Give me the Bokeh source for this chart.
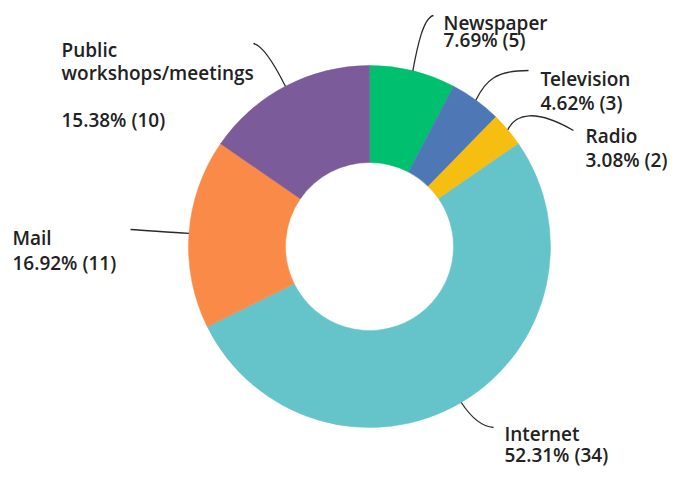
import math
from bokeh.plotting import figure
from bokeh.models import Range1d, ColumnDataSource
from bokeh.core.properties import value
from bokeh.embed import file_html
from bokeh.resources import INLINE

# ---- data ----
categories = ["Newspaper", "Television", "Radio", "Internet", "Mail", "Public workshops/meetings"]
counts = [5, 3, 2, 34, 11, 10]
percents = ["7.69%", "4.62%", "3.08%", "52.31%", "16.92%", "15.38%"]
colors = ["#00BF6F", "#4E77B6", "#F7BE12", "#64C4CA", "#FA8A48", "#7B5B99"]

# ---- layout (picture pixel coordinates) ----
W, H = 670, 469
CX, CY = 369, 246
R_OUT, R_IN = 181, 84

labels = [
    dict(lines=["Newspaper", "{p} ({c})"], x=443, ys=[22, 39], end=(433, 15), c1=(417, 45), c2=(423, 17)),
    dict(lines=["Television", "{p} ({c})"], x=540, ys=[78, 102], end=(528, 70), c1=(485, 80), c2=(495, 70)),
    dict(lines=["Radio", "{p} ({c})"], x=585, ys=[135, 159], end=(573, 130), c1=(515, 113), c2=(535, 108)),
    dict(lines=["Internet", "{p} ({c})"], x=504, ys=[433, 454], end=(493, 427), c1=(468, 413), c2=(479, 426)),
    dict(lines=["Mail", "{p} ({c})"], x=12, ys=[237, 262], end=(130, 229), c1=(168, 232), c2=(149, 230)),
    dict(lines=["Public", "workshops/meetings", "", "{p} ({c})"], x=61, ys=[49, 72, 95, 119], end=(253, 43), c1=(274, 64), c2=(262, 45)),
]

def dy(py):
    return H - py  # picture y -> data y (y up)

p = figure(width=W, height=H, x_range=Range1d(0, W), y_range=Range1d(0, H),
           output_backend="svg", toolbar_location=None, min_border=0)
p.axis.visible = False
p.grid.visible = False
p.outline_line_color = None
p.background_fill_color = "white"
p.border_fill_color = "white"

total = sum(counts)
starts, ends, mids = [], [], []
cum = 0
for c in counts:
    a0 = math.pi / 2 - 2 * math.pi * cum / total
    cum += c
    a1 = math.pi / 2 - 2 * math.pi * cum / total
    starts.append(a0)
    ends.append(a1)
    mids.append((a0 + a1) / 2)

src = ColumnDataSource(dict(x=[CX] * len(counts), y=[dy(CY)] * len(counts),
                            start=starts, end=ends, color=colors))
p.annular_wedge(x="x", y="y", inner_radius=R_IN, outer_radius=R_OUT,
                start_angle="start", end_angle="end", direction="clock",
                fill_color="color", line_color="color", line_width=0.5, source=src)

font = value("Open Sans SemiBold, Open Sans")
for i, lab in enumerate(labels):
    sx = CX + R_OUT * math.cos(mids[i])
    sy = CY - R_OUT * math.sin(mids[i])
    ex, ey = lab["end"]
    c1x, c1y = lab["c1"]
    c2x, c2y = lab["c2"]
    p.bezier(x0=[sx], y0=[dy(sy)], x1=[ex], y1=[dy(ey)],
             cx0=[c1x], cy0=[dy(c1y)], cx1=[c2x], cy1=[dy(c2y)],
             line_color="#2b2b2b", line_width=1.3)
    for t, by in zip(lab["lines"], lab["ys"]):
        if not t:
            continue
        txt = t.format(p=percents[i], c=counts[i])
        p.text(x=[lab["x"]], y=[dy(by)], text=[txt], text_font=font,
               text_font_size="19px", text_color="#222222",
               text_align="left", text_baseline="alphabetic")

open("out.html", "w").write(file_html(p, INLINE))
